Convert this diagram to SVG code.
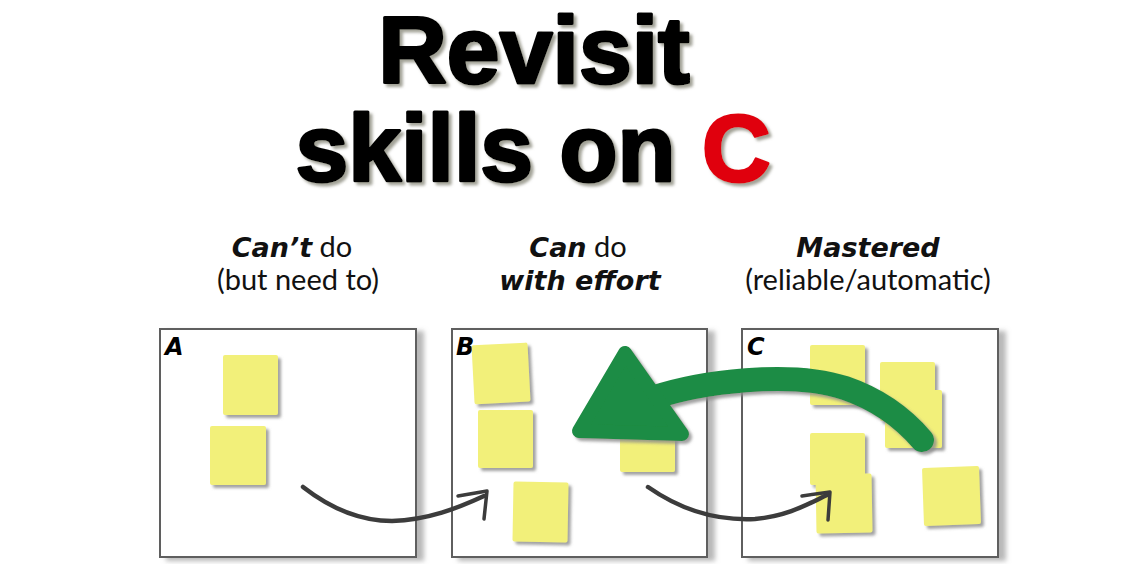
<svg xmlns="http://www.w3.org/2000/svg" width="1122" height="564" viewBox="0 0 1122 564">
<defs>
<filter id="sh" x="-20%" y="-20%" width="150%" height="150%"><feDropShadow dx="3" dy="3" stdDeviation="1.8" flood-color="#8a8a8a" flood-opacity="0.8"/></filter>
<filter id="bsh" x="-5%" y="-5%" width="115%" height="115%"><feDropShadow dx="7" dy="3" stdDeviation="2.5" flood-color="#9a9a9a" flood-opacity="0.7"/></filter>
<filter id="tsh" x="-5%" y="-10%" width="115%" height="130%"><feDropShadow dx="3" dy="3" stdDeviation="1.5" flood-color="#7a7a6a" flood-opacity="0.7"/></filter>
</defs>
<style>
.title{font-family:"Liberation Sans",Arial,sans-serif;font-weight:bold;font-size:95px;fill:#060606;stroke:#060606;stroke-width:3;stroke-linejoin:round;text-anchor:middle}
.lab{font-family:Lato,"Open Sans",sans-serif;font-size:29px;fill:#111;text-anchor:middle}
.bi{font-family:"DejaVu Sans",sans-serif;font-size:27px;font-weight:bold;font-style:italic}
.box{fill:#fff;stroke:#5e5e5e;stroke-width:2}
.let{font-family:"DejaVu Sans",sans-serif;font-weight:bold;font-style:italic;font-size:24px;fill:#000}
.note{fill:#f2f07a}
.g{fill:none;stroke:#3c3c3c;stroke-width:4.5;stroke-linecap:round;stroke-linejoin:round}
.gh{fill:none;stroke:#3c3c3c;stroke-width:3.5;stroke-linecap:round;stroke-linejoin:round}
</style>
<rect width="1122" height="564" fill="#fff"/>
<g id="title" filter="url(#tsh)">
<text class="title" x="534" y="83">Revisit</text>
<text class="title" x="533" y="181">skills on <tspan fill="#e0000f" stroke="#e0000f">C</tspan></text>
</g>
<g id="labels">
<text class="lab" x="292" y="257"><tspan class="bi">Can’t</tspan> do</text>
<text class="lab" x="298" y="290">(but need to)</text>
<text class="lab" x="578" y="257"><tspan class="bi">Can</tspan> do</text>
<text class="lab bi" x="580" y="290">with effort</text>
<text class="lab bi" x="868" y="257">Mastered</text>
<text class="lab" x="868" y="290">(reliable/automatic)</text>
</g>
<g id="boxA">
<rect class="box" x="160" y="329" width="256" height="228" filter="url(#bsh)"/>
<text class="let" x="165" y="355">A</text>
<g filter="url(#sh)">
<rect class="note" x="223" y="355" width="55" height="60" rx="2"/>
<rect class="note" x="210" y="426" width="56" height="59" rx="2"/>
</g>
</g>
<g id="boxB">
<rect class="box" x="452" y="329" width="255" height="228" filter="url(#bsh)"/>
<text class="let" x="456" y="355">B</text>
<g filter="url(#sh)">
<rect class="note" x="473" y="344" width="56" height="59" rx="2" transform="rotate(-3 500 373)"/>
<rect class="note" x="478" y="410" width="55" height="58" rx="2"/>
<rect class="note" x="513" y="482" width="55" height="60" rx="2" transform="rotate(1 540 512)"/>
<rect class="note" x="620" y="414" width="55" height="58" rx="2"/>
</g>
</g>
<g id="boxC">
<rect class="box" x="742" y="329" width="256" height="228" filter="url(#bsh)"/>
<text class="let" x="747" y="355">C</text>
<g filter="url(#sh)">
<rect class="note" x="810" y="345" width="55" height="60" rx="2"/>
<rect class="note" x="885" y="390" width="57" height="58" rx="2"/>
<rect class="note" x="880" y="362" width="55" height="59" rx="2"/>
<rect class="note" x="810" y="433" width="55" height="52" rx="2"/>
<rect class="note" x="816" y="474" width="56" height="59" rx="2" transform="rotate(-1 844 503)"/>
<rect class="note" x="923" y="467" width="57" height="58" rx="2" transform="rotate(-2 951 496)"/>
</g>
</g>
<g id="connectors">
<g id="gray1">
<path class="g" d="M303,487 C330,508 358,521 392,521 C428,520 458,508 484,496"/>
<path class="gh" d="M458,496 L487,491 L484,519"/>
</g>
<g id="gray2">
<path class="g" d="M648,487 C678,508 715,521 755,519 C788,516 808,504 827,495"/>
<path class="gh" d="M802,496 L830,492 L828,520"/>
</g>
<g id="green" filter="url(#sh)">
<path d="M652,398 C700,382 790,370 845,388 C880,400 905,420 922,440" fill="none" stroke="#1f8c44" stroke-width="24" stroke-linecap="round"/>
<polygon points="625,353 579,431 682,434" fill="#1f8c44" stroke="#1f8c44" stroke-width="14" stroke-linejoin="round"/>
</g>
</g>
</svg>
